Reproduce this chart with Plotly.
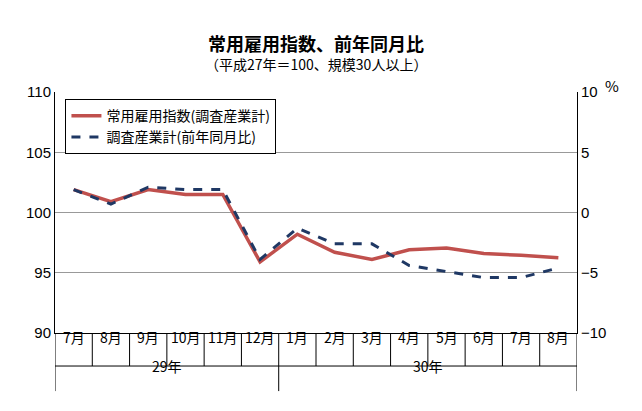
import plotly.graph_objects as go

months = ["7月","8月","9月","10月","11月","12月","1月","2月","3月","4月","5月","6月","7月","8月"]
years = ["29年", "30年"]
index_vals = [101.9, 100.9, 101.9, 101.5, 101.5, 95.9, 98.2, 96.7, 96.1, 96.9, 97.05, 96.6, 96.45, 96.25]
yoy_vals = [1.9, 0.7, 2.1, 1.9, 1.9, -3.9, -1.3, -2.6, -2.6, -4.4, -4.9, -5.4, -5.4, -4.6]

x = list(range(len(months)))
fig = go.Figure()
fig.add_trace(go.Scatter(x=x, y=index_vals, mode="lines", name="常用雇用指数(調査産業計)",
                         line=dict(color="#c0504d", width=3.5)))
fig.add_trace(go.Scatter(x=x, y=yoy_vals, mode="lines", name="調査産業計(前年同月比)", yaxis="y2",
                         line=dict(color="#1f3864", width=3, dash="dash")))

font = "Noto Sans CJK JP"
fig.update_layout(
    width=642, height=411, margin=dict(l=47, r=73, t=84, b=86, autoexpand=False),
    paper_bgcolor="white", plot_bgcolor="white",
    font=dict(family=font, size=14, color="black"),
    showlegend=True,
    legend=dict(x=0.02, y=0.97, xanchor="left", yanchor="top", bordercolor="black", borderwidth=1,
                bgcolor="white", font=dict(size=14)),
    xaxis=dict(range=[-0.5, 13.5], showticklabels=False, showgrid=False, zeroline=False,
               showline=True, linecolor="black", ticks=""),
    yaxis=dict(range=[90, 110], dtick=5, showgrid=True, gridcolor="#999999", zeroline=False,
               showline=True, linecolor="black", ticks="", tickfont=dict(size=15, family="Liberation Sans")),
    yaxis2=dict(range=[-10, 10], dtick=5, overlaying="y", side="right", showgrid=False, zeroline=False,
                showline=True, linecolor="black", ticks="", tickfont=dict(size=15, family="Liberation Sans")),
)
shapes = []
for i in range(len(months) + 1):
    b = i - 0.5
    bottom = -0.241 if i in (0, 6, 14) else -0.137
    shapes.append(dict(type="line", xref="x", yref="paper", x0=b, x1=b, y0=0, y1=bottom,
                       line=dict(color="black", width=1)))
shapes.append(dict(type="line", xref="x", yref="paper", x0=-0.5, x1=13.5, y0=-0.137, y1=-0.137,
                   line=dict(color="black", width=1)))
fig.update_layout(shapes=shapes)
ann = []
for i, m in enumerate(months):
    ann.append(dict(x=i, y=-0.068, xref="x", yref="paper", text=m, showarrow=False, font=dict(size=14)))
ann.append(dict(x=2.5, y=-0.187, xref="x", yref="paper", text=years[0], showarrow=False, font=dict(size=14)))
ann.append(dict(x=9.5, y=-0.187, xref="x", yref="paper", text=years[1], showarrow=False, font=dict(size=14)))
ann.append(dict(x=0.5, y=1.265, xref="paper", yref="paper", text="<b>常用雇用指数、前年同月比</b>", showarrow=False,
                font=dict(size=18)))
ann.append(dict(x=0.5, y=1.165, xref="paper", yref="paper", text="（平成27年＝100、規模30人以上）", showarrow=False,
                font=dict(size=14)))
ann.append(dict(x=1.085, y=1.08, xref="paper", yref="paper", text="%", showarrow=False, font=dict(size=15)))
fig.update_layout(annotations=ann)
fig.write_html("out.html")
